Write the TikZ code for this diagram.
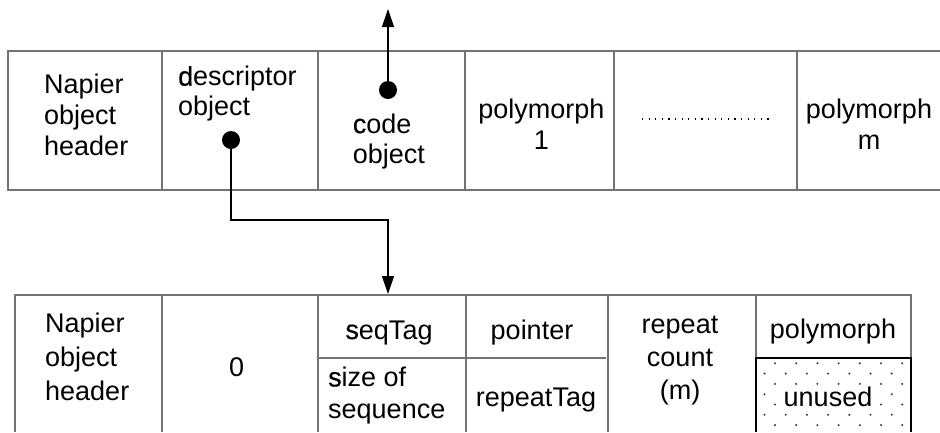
\documentclass[tikz,border=0pt]{standalone}
\usepackage{fontspec}
\setmainfont{Liberation Sans}
\usetikzlibrary{arrows.meta}
\newcommand{\semib}[1]{{\addfontfeature{FakeBold=0.6}#1}}
\tikzset{
  lbl/.style={inner sep=0pt, font=\fontsize{27}{31}\selectfont},
  lead/.style={font=\fontsize{27}{#1}\selectfont},
  gridline/.style={draw=black!55, line width=1.2pt},
  darkline/.style={draw=black, line width=1.3pt},
  ptrdot/.style={circle, fill=black, inner sep=0pt, minimum size=18pt},
  conn/.style={line width=1.1pt, -{Triangle[length=18pt,width=12pt]}},
  speck/.style={fill=black!75},
}
\begin{document}
\begin{tikzpicture}[x=1pt,y=-1pt]
\useasboundingbox (0,0) rectangle (940,432);
% ---------- top object ----------
\draw[gridline] (940,51) -- (8,51) -- (8,190) -- (940,190);
\foreach \xx in {162,318,465,614,797} \draw[gridline] (\xx,51) -- (\xx,190);
\node[lbl, align=left, anchor=west] (hdrA) at (44,114.4) {Napier\\object\\header};
\node[lbl, lead=30, align=left, anchor=west] (descA) at (178,93.7) {\semib{d}escriptor\\object};
\node[lbl, lead=30, align=left, anchor=west] (codeA) at (352.7,141.2) {\semib{c}ode\\object};
\node[lbl, align=center] (poly1) at (541.5,123.9) {polymorph\\1};
\node[lbl, align=center] (polym) at (869,123.9) {polymorph\\m};
\coordinate (dotsL) at (642,119);
\coordinate (dotsR) at (773,119);
\draw[line width=1.3pt, dash pattern=on 1.2pt off 5.4pt] (dotsL) -- (dotsR);
\node[ptrdot] (codeDot) at (388,90) {};
\node[ptrdot] (descDot) at (231,140) {};
\coordinate (codeTip) at (388,9);
\draw[conn] (codeDot.center) -- (codeTip);
% ---------- bottom object ----------
\draw[gridline] (15,432) -- (15,295) -- (911,295) -- (911,432);
\foreach \xx in {162,318,466,608,756} \draw[gridline] (\xx,295) -- (\xx,432);
\draw[gridline] (318,358) -- (606,358);
% unused area with dots
\begin{scope}
  \clip (756,358) rectangle (911,432);
  \foreach \r in {0,...,7} {
    \pgfmathsetmacro{\yy}{363.3+10.3*\r}
    \pgfmathsetmacro{\xo}{mod(\r,2)==0 ? 775 : 764.5}
    \foreach \c in {0,...,7} {
      \fill[speck] ({\xo+21.2*\c},\yy) circle (1.15pt);
    }
  }
\end{scope}
\draw[darkline] (756,432) -- (756,358) -- (911,358) -- (911,432);
\node[lbl, lead=34, align=left, anchor=west] (hdrB) at (45,356.4) {Napier\\object\\header};
\node[lbl] (zero) at (236.7,366.7) {0};
\node[lbl, anchor=base] (seqTag) at (389,339) {\semib{s}eqTag};
\node[lbl, anchor=base] (ptr) at (532,339) {pointer};
\node[lbl, lead=32, align=left, anchor=west] (sizeSeq) at (328,395.5) {\semib{s}ize of\\sequence};
\node[lbl, anchor=base] (rptTag) at (536,406) {repeatTag};
\node[lbl, lead=33, align=center] (rptCnt) at (680,361) {repeat\\count\\(m)};
\node[lbl, anchor=base] (polyB) at (833,338) {polymorph};
\node[lbl, anchor=base, fill=white, inner sep=1.5pt] (unused) at (828,406) {unused};
% ---------- descriptor pointer ----------
\coordinate (bend) at (231,220);
\coordinate (seqTop) at (388,294);
\draw[conn] (descDot.center) -- (bend) -| (seqTop);
\end{tikzpicture}
\end{document}
